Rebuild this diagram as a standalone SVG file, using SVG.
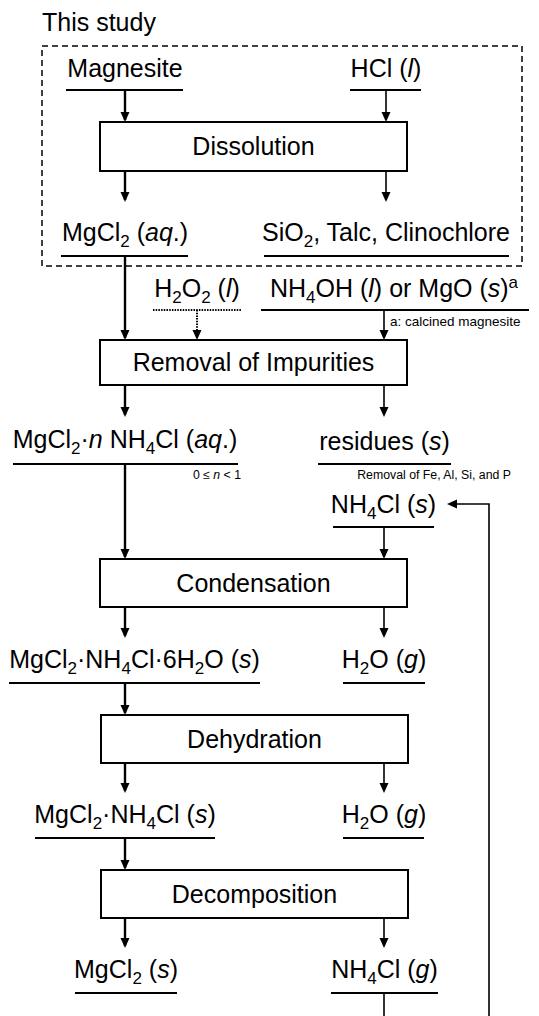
<svg xmlns="http://www.w3.org/2000/svg" width="539" height="1016" viewBox="0 0 539 1016">
<style>
text{font-family:"Liberation Sans",Arial,sans-serif;fill:#000;}
.t{font-size:25px;text-anchor:middle;}
.s{font-size:12.3px;}
.box{fill:#fff;stroke:#000;stroke-width:2;}
.ul{stroke:#000;stroke-width:2;}
.c{fill:none;stroke:#000;stroke-width:1.6;}
.ct{fill:none;stroke:#000;stroke-width:2.4;}
.dot{fill:none;stroke:#000;stroke-width:2;stroke-dasharray:1.5 1.2;}
.i{font-style:italic;}
</style>
<defs>
<marker id="ah" markerUnits="userSpaceOnUse" markerWidth="12" markerHeight="10" refX="8" refY="4.5" orient="auto" viewBox="0 0 12 10">
<path d="M0,0 L10,4.5 L0,9 z" fill="#000"/>
</marker>
</defs>

<g id="frame">
<text x="42" y="31" style="font-size:25px">This study</text>
<rect x="42" y="46" width="480" height="220" fill="none" stroke="#000" stroke-width="1.5" stroke-dasharray="6 4"/>
</g>

<g id="connectors">
<line class="ct" x1="125" y1="90" x2="125" y2="120" marker-end="url(#ah)"/>
<line class="c" x1="386" y1="90" x2="386" y2="120" marker-end="url(#ah)"/>
<line class="ct" x1="125" y1="171" x2="125" y2="200" marker-end="url(#ah)"/>
<line class="c" x1="386" y1="171" x2="386" y2="200" marker-end="url(#ah)"/>
<line class="ct" x1="125" y1="256" x2="125" y2="338" marker-end="url(#ah)"/>
<line class="dot" x1="197" y1="310" x2="197" y2="334"/>
<line class="c" x1="197" y1="334" x2="197" y2="338" marker-end="url(#ah)"/>
<line class="c" x1="384" y1="310" x2="384" y2="338" marker-end="url(#ah)"/>
<line class="ct" x1="125" y1="385" x2="125" y2="415" marker-end="url(#ah)"/>
<line class="c" x1="384" y1="385" x2="384" y2="415" marker-end="url(#ah)"/>
<line class="ct" x1="125" y1="464" x2="125" y2="557" marker-end="url(#ah)"/>
<line class="c" x1="384" y1="527" x2="384" y2="557" marker-end="url(#ah)"/>
<line class="ct" x1="125" y1="607" x2="125" y2="636" marker-end="url(#ah)"/>
<line class="c" x1="384" y1="607" x2="384" y2="636" marker-end="url(#ah)"/>
<line class="ct" x1="125" y1="683" x2="125" y2="713" marker-end="url(#ah)"/>
<line class="ct" x1="125" y1="763" x2="125" y2="791" marker-end="url(#ah)"/>
<line class="c" x1="384" y1="763" x2="384" y2="791" marker-end="url(#ah)"/>
<line class="ct" x1="125" y1="838" x2="125" y2="868" marker-end="url(#ah)"/>
<line class="ct" x1="125" y1="918" x2="125" y2="946" marker-end="url(#ah)"/>
<line class="c" x1="384" y1="918" x2="384" y2="946" marker-end="url(#ah)"/>
<line class="c" x1="384" y1="993" x2="384" y2="1016"/>
<polyline class="c" points="489,1016 489,504 449,504" marker-end="url(#ah)"/>
</g>

<g id="magnesite">
<text class="t" x="125" y="77">Magnesite</text>
<line class="ul" x1="66" y1="90" x2="183" y2="90"/>
</g>
<g id="hcl">
<text class="t" x="386" y="77">HCl (<tspan class="i">l</tspan>)</text>
<line class="ul" x1="350" y1="90" x2="421" y2="90"/>
</g>
<g id="dissolution">
<rect class="box" x="100" y="122" width="307" height="49"/>
<text class="t" x="253.5" y="155">Dissolution</text>
</g>
<g id="mgcl2-aq">
<text class="t" x="125" y="241">MgCl<tspan font-size="17" dy="6">2</tspan><tspan dy="-6"> (</tspan><tspan class="i">aq</tspan>.)</text>
<line class="ul" x1="61" y1="256" x2="188" y2="256"/>
</g>
<g id="sio2">
<text class="t" x="386" y="241">SiO<tspan font-size="17" dy="6">2</tspan><tspan dy="-6">, Talc, Clinochlore</tspan></text>
<line class="ul" x1="264" y1="256" x2="509" y2="256"/>
</g>
<g id="h2o2">
<text class="t" x="197" y="297">H<tspan font-size="17" dy="6">2</tspan><tspan dy="-6">O</tspan><tspan font-size="17" dy="6">2</tspan><tspan dy="-6"> (</tspan><tspan class="i">l</tspan>)</text>
<line class="dot" x1="153" y1="310" x2="241" y2="310"/>
</g>
<g id="nh4oh">
<text class="t" x="394" y="297">NH<tspan font-size="17" dy="6">4</tspan><tspan dy="-6">OH (</tspan><tspan class="i">l</tspan>) or MgO (<tspan class="i">s</tspan>)<tspan font-size="17" dy="-9">a</tspan></text>
<line class="ul" x1="261" y1="310" x2="529" y2="310"/>
<text x="390" y="326" style="font-size:13.5px">a: calcined magnesite</text>
</g>
<g id="removal">
<rect class="box" x="100" y="340" width="307" height="45"/>
<text class="t" x="253.5" y="371">Removal of Impurities</text>
</g>
<g id="mgcl2-nh4cl-aq">
<text class="t" x="125" y="448">MgCl<tspan font-size="17" dy="6">2</tspan><tspan dy="-6">·</tspan><tspan class="i">n</tspan> NH<tspan font-size="17" dy="6">4</tspan><tspan dy="-6">Cl (</tspan><tspan class="i">aq</tspan>.)</text>
<line class="ul" x1="13" y1="464" x2="238" y2="464"/>
<text class="s" x="241" y="479" text-anchor="end">0 ≤ <tspan class="i">n</tspan> &lt; 1</text>
</g>
<g id="residues">
<text class="t" x="384.5" y="450">residues (<tspan class="i">s</tspan>)</text>
<line class="ul" x1="318" y1="464" x2="451" y2="464"/>
<text class="s" x="511" y="479" text-anchor="end">Removal of Fe, Al, Si, and P</text>
</g>
<g id="nh4cl-s">
<text class="t" x="383.5" y="513">NH<tspan font-size="17" dy="6">4</tspan><tspan dy="-6">Cl (</tspan><tspan class="i">s</tspan>)</text>
<line class="ul" x1="333" y1="527" x2="434" y2="527"/>
</g>
<g id="condensation">
<rect class="box" x="100" y="559" width="307" height="48"/>
<text class="t" x="253.5" y="592">Condensation</text>
</g>
<g id="hexahydrate">
<text class="t" x="134.5" y="668">MgCl<tspan font-size="17" dy="6">2</tspan><tspan dy="-6">·NH</tspan><tspan font-size="17" dy="6">4</tspan><tspan dy="-6">Cl·6H</tspan><tspan font-size="17" dy="6">2</tspan><tspan dy="-6">O (</tspan><tspan class="i">s</tspan>)</text>
<line class="ul" x1="9" y1="683" x2="260" y2="683"/>
</g>
<g id="h2o-g-1">
<text class="t" x="384" y="668">H<tspan font-size="17" dy="6">2</tspan><tspan dy="-6">O (</tspan><tspan class="i">g</tspan>)</text>
<line class="ul" x1="343" y1="683" x2="425" y2="683"/>
</g>
<g id="dehydration">
<rect class="box" x="101" y="715" width="307" height="48"/>
<text class="t" x="254.5" y="748">Dehydration</text>
</g>
<g id="mgcl2-nh4cl-s">
<text class="t" x="125" y="823">MgCl<tspan font-size="17" dy="6">2</tspan><tspan dy="-6">·NH</tspan><tspan font-size="17" dy="6">4</tspan><tspan dy="-6">Cl (</tspan><tspan class="i">s</tspan>)</text>
<line class="ul" x1="35" y1="838" x2="215" y2="838"/>
</g>
<g id="h2o-g-2">
<text class="t" x="384" y="823">H<tspan font-size="17" dy="6">2</tspan><tspan dy="-6">O (</tspan><tspan class="i">g</tspan>)</text>
<line class="ul" x1="343" y1="838" x2="424" y2="838"/>
</g>
<g id="decomposition">
<rect class="box" x="101" y="870" width="307" height="48"/>
<text class="t" x="254.5" y="903">Decomposition</text>
</g>
<g id="mgcl2-s">
<text class="t" x="126" y="978">MgCl<tspan font-size="17" dy="6">2</tspan><tspan dy="-6"> (</tspan><tspan class="i">s</tspan>)</text>
<line class="ul" x1="75" y1="993" x2="177" y2="993"/>
</g>
<g id="nh4cl-g">
<text class="t" x="384.5" y="978">NH<tspan font-size="17" dy="6">4</tspan><tspan dy="-6">Cl (</tspan><tspan class="i">g</tspan>)</text>
<line class="ul" x1="331" y1="993" x2="438" y2="993"/>
</g>
</svg>
